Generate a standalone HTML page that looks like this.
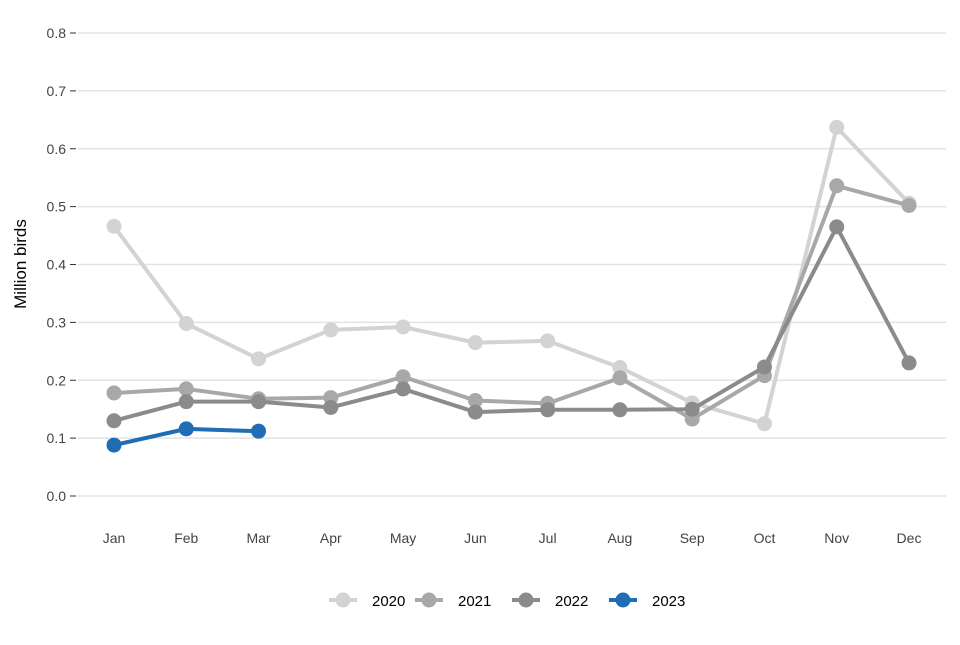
<!DOCTYPE html>
<html><head><meta charset="utf-8"><style>
body{margin:0;background:#fff;font-family:"Liberation Sans",Arial,sans-serif}
svg text{font-family:"Liberation Sans",Arial,sans-serif}
</style></head><body>
<svg id="chart" width="960" height="640" viewBox="0 0 960 640" xmlns="http://www.w3.org/2000/svg">
<g id="grid"></g><g id="series"></g><g id="legend"></g>
<text transform="translate(26,264) rotate(-90)" text-anchor="middle" font-size="17" fill="#000">Million birds</text>
</svg>
<script>
const months=["Jan","Feb","Mar","Apr","May","Jun","Jul","Aug","Sep","Oct","Nov","Dec"];
const yTicks=[0,0.1,0.2,0.3,0.4,0.5,0.6,0.7,0.8];
const seriesNames=["2020","2021","2022","2023"];
const s2020=[0.466,0.298,0.237,0.287,0.292,0.265,0.268,0.222,0.161,0.125,0.637,0.506];
const s2021=[0.178,0.185,0.168,0.170,0.206,0.165,0.160,0.204,0.133,0.208,0.536,0.502];
const s2022=[0.130,0.163,0.163,0.153,0.185,0.145,0.149,0.149,0.150,0.223,0.465,0.230];
const s2023=[0.088,0.116,0.112];
const colors=["#d3d3d3","#a9a8a9","#8c8a8b","#1f6db5"];
const NS="http://www.w3.org/2000/svg";
const x=i=>114+i*(909-114)/11;
const y=v=>496-v*(496-33)/0.8;
function mk(t,a,p){const e=document.createElementNS(NS,t);for(const k in a)e.setAttribute(k,a[k]);p.appendChild(e);return e;}
const grid=document.getElementById('grid');
yTicks.forEach(v=>{
 const l=mk('line',{x1:78,x2:946,y1:y(v),y2:y(v),stroke:'#e3e3e3','stroke-width':1.5},grid);
 
 
 mk('line',{x1:70,x2:76,y1:y(v),y2:y(v),stroke:'#333','stroke-width':1},grid);
 const t=mk('text',{x:66,y:y(v)+5,'text-anchor':'end','font-size':14,fill:'#444'},grid);
 t.textContent=v.toFixed(1);
 
 
});
months.forEach((m,i)=>{
 const t=mk('text',{x:x(i),y:543,'text-anchor':'middle','font-size':14,fill:'#444'},grid);
 t.textContent=m;
 
 
});
const ser=document.getElementById('series');
[s2020,s2021,s2022,s2023].forEach((d,k)=>{
 const g=mk('g',{},ser);
 
 
 mk('polyline',{points:d.map((v,i)=>x(i)+','+y(v)).join(' '),fill:'none',stroke:colors[k],'stroke-width':4,'stroke-linejoin':'round'},g);
 d.forEach((v,i)=>{
  const c=mk('circle',{cx:x(i),cy:y(v),r:7.5,fill:colors[k]},g);
  
  
 });
});
const leg=document.getElementById('legend');
const lx=[343,429,526,623];
seriesNames.forEach((n,k)=>{
 const g=mk('g',{},leg);
 
 
 mk('line',{x1:lx[k]-14,x2:lx[k]+14,y1:600,y2:600,stroke:colors[k],'stroke-width':4},g);
 mk('circle',{cx:lx[k],cy:600,r:7.5,fill:colors[k]},g);
 const t=mk('text',{x:lx[k]+29,y:606,'font-size':15,fill:'#000'},g);
 t.textContent=n;
});
</script>
</body></html>
